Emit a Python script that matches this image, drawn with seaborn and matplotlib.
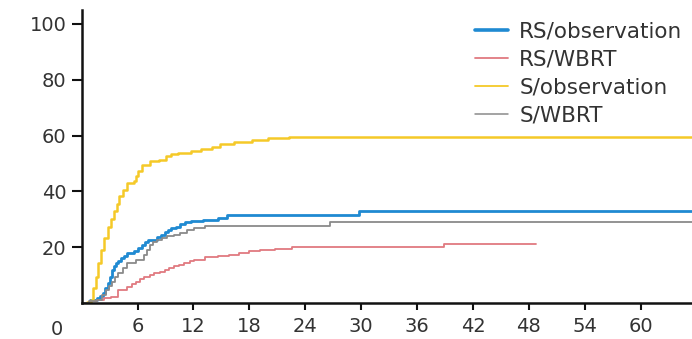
import matplotlib
matplotlib.use("Agg")
import matplotlib.pyplot as plt
import pandas as pd
import seaborn as sns

# cumulative incidence (%), step curves
rs_obs_t = [0, 0.9, 1.7, 2.0, 2.25, 2.5, 2.8, 3.05, 3.3, 3.5, 3.7, 3.95, 4.2, 4.55, 4.9, 5.6, 6.0, 6.5, 6.8, 7.1, 8.1, 8.5, 8.9, 9.25, 9.6, 10.1, 10.6, 11.1, 11.7, 13.0, 14.6, 15.6, 18.3, 29.8, 65.5]
rs_obs_y = [0, 1, 1.7, 2.6, 3.5, 5.3, 7.1, 9.5, 11.9, 13.1, 14.3, 15.2, 16.1, 17.0, 17.9, 18.5, 19.7, 20.9, 21.8, 22.7, 23.6, 24.5, 25.4, 26.3, 26.8, 27.4, 28.3, 29.2, 29.5, 29.9, 30.5, 31.7, 31.7, 33, 33]

rs_wbrt_t = [0, 0.9, 1.7, 2.4, 3.1, 3.9, 4.9, 5.4, 5.8, 6.3, 6.7, 7.3, 7.8, 8.4, 8.9, 9.4, 9.9, 10.5, 11.0, 11.6, 12.1, 13.2, 14.6, 15.8, 16.9, 18.0, 19.1, 20.8, 22.6, 38.9, 48.8]
rs_wbrt_y = [0, 0.6, 1.1, 1.8, 2.3, 4.7, 5.9, 6.8, 7.7, 8.6, 9.5, 10.1, 10.7, 11.3, 11.9, 12.5, 13.1, 13.7, 14.3, 14.9, 15.5, 16.4, 16.9, 17.3, 18.0, 18.5, 19.0, 19.5, 19.9, 21.2, 21.2]

s_obs_t = [0, 0.6, 1.0, 1.25, 1.5, 1.8, 2.1, 2.45, 2.8, 3.15, 3.5, 3.75, 4.0, 4.4, 4.9, 5.6, 5.8, 6.0, 6.5, 7.3, 8.3, 9.0, 9.6, 10.3, 11.7, 12.8, 14.0, 14.9, 16.4, 18.3, 20.0, 22.3, 65.5]
s_obs_y = [0, 0.5, 1.1, 5.3, 9.5, 14.2, 19, 23.2, 27.4, 30.1, 32.8, 35.5, 38.2, 40.6, 43, 43.6, 45.4, 47.2, 49.6, 50.8, 51.2, 52.6, 53.2, 53.8, 54.4, 55, 55.9, 56.8, 57.7, 58.3, 59, 59.6, 59.6]

s_wbrt_t = [0, 0.8, 1.7, 2.2, 2.6, 2.95, 3.3, 3.6, 3.9, 4.4, 4.9, 5.8, 6.7, 7.0, 7.3, 7.7, 8.1, 8.6, 9.2, 9.9, 10.6, 11.3, 12.1, 13.2, 26.6, 65.5]
s_wbrt_y = [0, 0.6, 1.2, 2.9, 4.7, 6.2, 7.7, 9.2, 10.7, 12.5, 14.3, 15.5, 17.3, 19.1, 20.9, 21.8, 22.7, 23.3, 23.9, 24.5, 25.1, 26.0, 26.9, 27.5, 29.1, 29.1]

groups = ["RS/observation", "RS/WBRT", "S/observation", "S/WBRT"]
colors = ["#1f8ad2", "#e07a80", "#f5c928", "#8a8a8a"]
widths = [2.0, 1.3, 1.8, 1.3]
legend_widths = [2.6, 1.3, 1.3, 1.1]
x_ticks = [6, 12, 18, 24, 30, 36, 42, 48, 54, 60]
y_ticks = [20, 40, 60, 80, 100]

curves = [(rs_obs_t, rs_obs_y), (rs_wbrt_t, rs_wbrt_y), (s_obs_t, s_obs_y), (s_wbrt_t, s_wbrt_y)]

sns.set_theme(style="white")
plt.rcParams["font.family"] = ["DejaVu Sans"]

fig = plt.figure(figsize=(6.92, 3.39), dpi=100)
ax = fig.add_axes([0.118, 0.106, 0.882, 0.865])

for name, (t, y), c, w in zip(groups, curves, colors, widths):
    df = pd.DataFrame({"time": t, "pct": y})
    sns.lineplot(data=df, x="time", y="pct", ax=ax, color=c, linewidth=w,
                 drawstyle="steps-post", estimator=None, label=None)

ax.set_xlim(0, 65.5)
ax.set_ylim(0, 105)
ax.set_xticks(x_ticks)
ax.set_yticks(y_ticks)
ax.set_xlabel("")
ax.set_ylabel("")
for s in ["top", "right"]:
    ax.spines[s].set_visible(False)
for s in ["left", "bottom"]:
    ax.spines[s].set_linewidth(1.8)
    ax.spines[s].set_color("#111111")
ax.tick_params(axis="y", direction="out", length=7, width=1.5, pad=4,
               labelsize=14, colors="#111111", labelcolor="#333333", left=True)
ax.tick_params(axis="x", direction="out", length=5, width=1.5, pad=5,
               labelsize=14, colors="#111111", labelcolor="#333333", bottom=True)
ax.text(-2.7, -9.5, "0", ha="center", va="center", fontsize=14, color="#333333", clip_on=False)

handles = [plt.Line2D([], [], color=c, linewidth=w) for c, w in zip(colors, legend_widths)]
leg = ax.legend(handles, groups, loc="upper right", bbox_to_anchor=(1.016, 1.025), frameon=False,
                fontsize=15.5, handlelength=1.55, handletextpad=0.5, labelspacing=0.36)
for txt in leg.get_texts():
    txt.set_color("#333333")

fig.savefig("out.png", dpi=100, facecolor="white")
